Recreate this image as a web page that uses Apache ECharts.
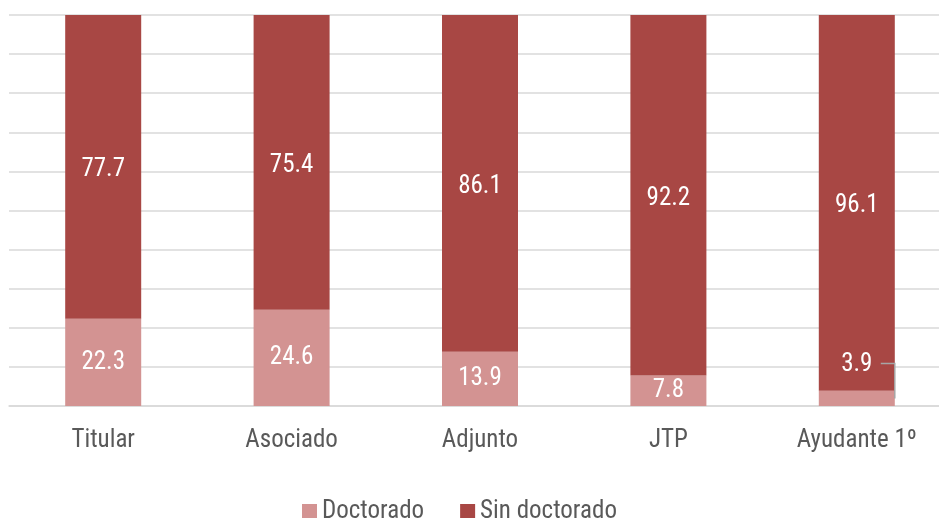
<!DOCTYPE html>
<html>
<head>
<meta charset="utf-8">
<script src="https://cdn.jsdelivr.net/npm/echarts@6/dist/echarts.min.js"></script>
<style>
  html, body { margin: 0; padding: 0; background: #fff; }
  #chart { width: 939px; height: 518px; }
</style>
</head>
<body>
<div id="chart"></div>
<script>
  // categorias y valores (%)
  const categorias = ["Titular", "Asociado", "Adjunto", "JTP", "Ayudante 1º"];
  const doctorado = [22.3, 24.6, 13.9, 7.8, 3.9];
  const sinDoctorado = [77.7, 75.4, 86.1, 92.2, 96.1];

  const fuente = "'Roboto Condensed', 'Liberation Sans Narrow', 'Roboto', sans-serif";
  const myChart = echarts.init(document.getElementById("chart"));

  // indice de la barra cuya etiqueta va desplazada con linea guia
  const idxGuia = 4;

  const option = {
    color: ["#d39392", "#a84744"],
    animation: false,
    grid: {
      top: 15,
      left: 9,
      width: 942,
      bottom: 112,
      outerBoundsMode: "none"
    },
    legend: {
      top: 494,
      left: 297,
      itemWidth: 15,
      itemHeight: 15,
      itemGap: 36,
      icon: "rect",
      textStyle: { color: "#595959", fontSize: 25, fontFamily: fuente },
      data: ["Doctorado", "Sin doctorado"]
    },
    xAxis: {
      type: "category",
      data: categorias,
      axisTick: { show: false },
      axisLine: { lineStyle: { color: "#d9d9d9", width: 1.5 } },
      axisLabel: {
        color: "#595959",
        fontSize: 25,
        fontFamily: fuente,
        margin: 22
      }
    },
    yAxis: {
      type: "value",
      min: 0,
      max: 100,
      interval: 10,
      axisLabel: { show: false },
      axisLine: { show: false },
      axisTick: { show: false },
      splitLine: { lineStyle: { color: "#d9d9d9", width: 1.5 } }
    },
    series: [
      {
        name: "Doctorado",
        type: "bar",
        stack: "total",
        barWidth: 76,
        data: doctorado,
        label: {
          show: true,
          position: "inside",
          offset: [0, 3],
          color: "#fff",
          fontSize: 25,
          fontFamily: fuente
        },
        labelLayout: function (params) {
          // la etiqueta pequeña se sube encima de la barra
          if (params.dataIndex === idxGuia) {
            return { dy: -34 };
          }
          return {};
        }
      },
      {
        name: "Sin doctorado",
        type: "bar",
        stack: "total",
        barWidth: 76,
        data: sinDoctorado,
        label: {
          show: true,
          position: "inside",
          offset: [0, 3],
          color: "#fff",
          fontSize: 25,
          fontFamily: fuente
        }
      },
      {
        // linea guia de la etiqueta desplazada
        type: "custom",
        silent: true,
        z: 5,
        data: [[idxGuia, doctorado[idxGuia]]],
        renderItem: function (params, api) {
          const c = api.coord([api.value(0), api.value(1) / 2]);
          return {
            type: "polyline",
            shape: {
              points: [
                [c[0] + 24, c[1] - 35],
                [c[0] + 38, c[1] - 35],
                [c[0] + 38, c[1]]
              ]
            },
            style: { stroke: "#a6a6a6", lineWidth: 1.5, fill: null }
          };
        }
      }
    ]
  };

  myChart.clear();
  myChart.setOption(option);
</script>
</body>
</html>
